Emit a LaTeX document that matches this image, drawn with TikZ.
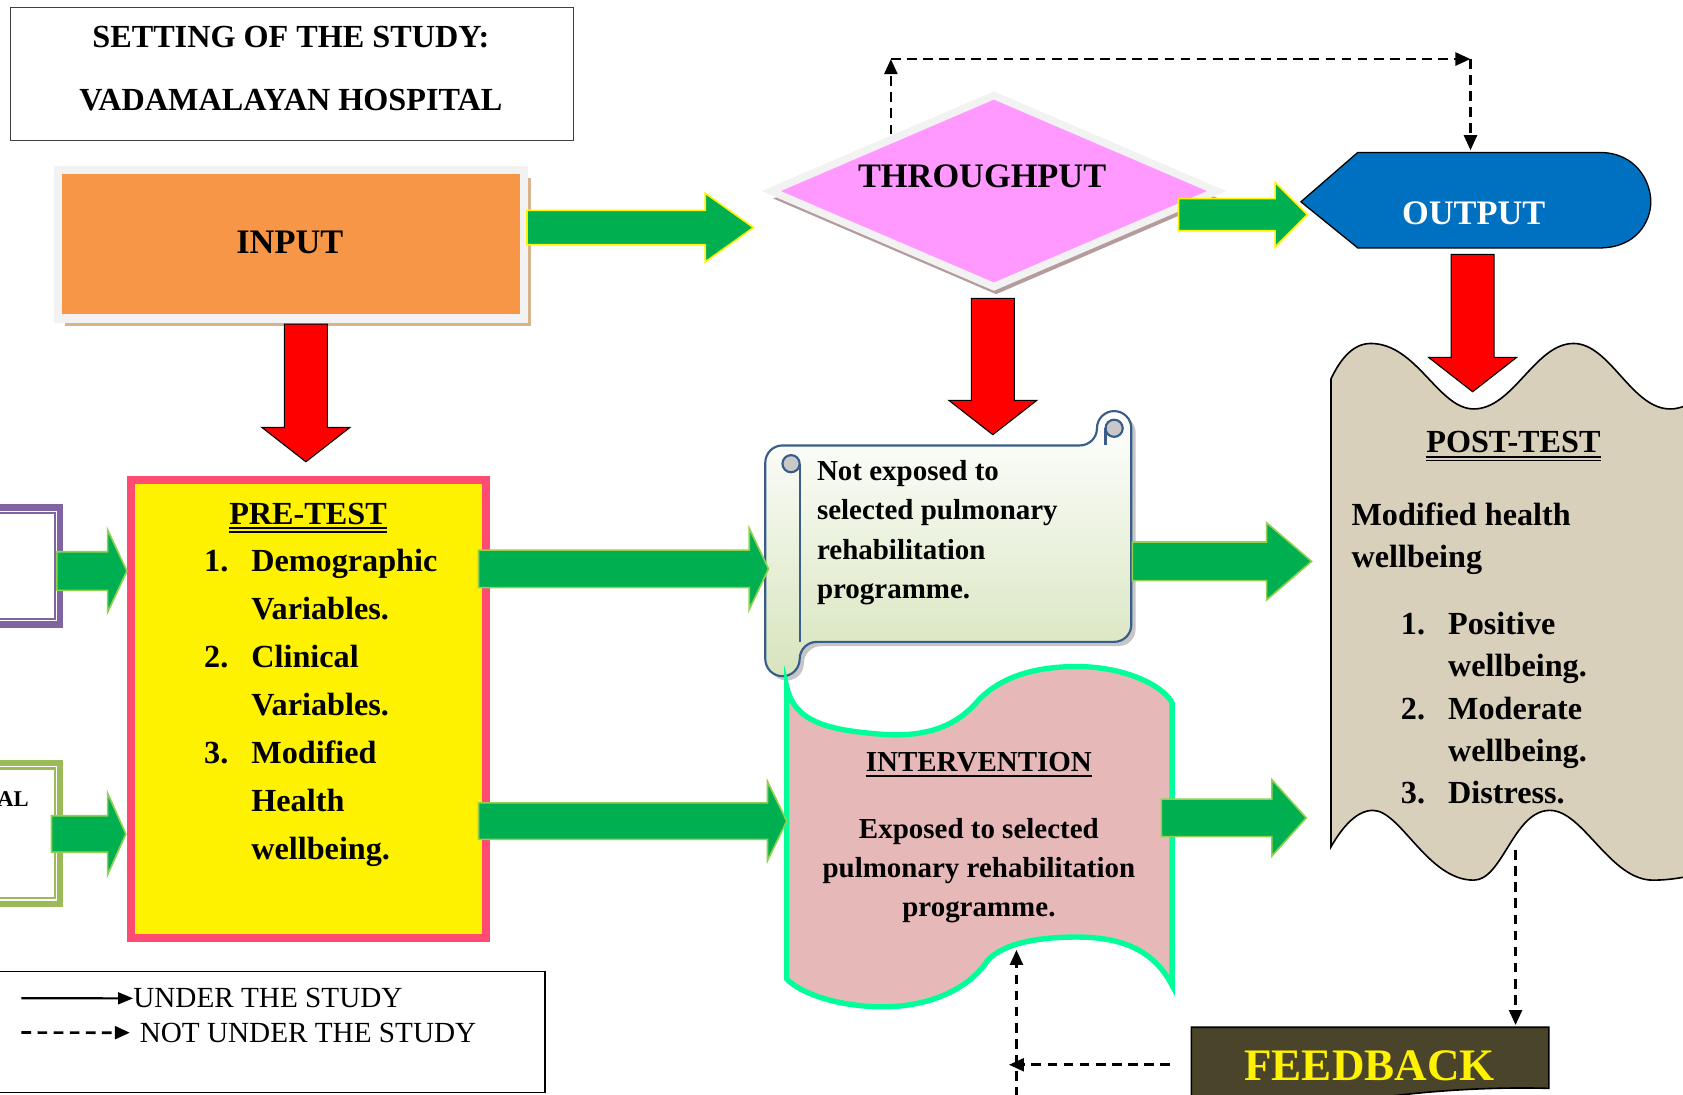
\documentclass[tikz,border=0pt]{standalone}
\usepackage{fontspec}
\setmainfont{Liberation Serif}
\usetikzlibrary{arrows.meta,calc,shapes.geometric,shadows}

\definecolor{arrowgreen}{HTML}{00B050}
\definecolor{limeedge}{HTML}{92D050}
\definecolor{inputorange}{HTML}{F79646}
\definecolor{framegray}{HTML}{F2F2F2}
\definecolor{shadowtan}{HTML}{D9B38C}
\definecolor{thrpink}{HTML}{FF99FF}
\definecolor{thrshadow}{HTML}{B59C9C}
\definecolor{outblue}{HTML}{0070C0}
\definecolor{prepink}{HTML}{FF4A72}
\definecolor{boxpurple}{HTML}{8064A2}
\definecolor{boxgreen}{HTML}{9BBB59}
\definecolor{scrollblue}{HTML}{385D8A}
\definecolor{scrollgreen}{HTML}{D7E4BD}
\definecolor{rollgray}{HTML}{C8C8C8}
\definecolor{intpink}{HTML}{E6B9B8}
\definecolor{intmint}{HTML}{00FF99}
\definecolor{postbeige}{HTML}{D9D0BC}
\definecolor{fbolive}{HTML}{4A452A}

% block arrow: [style]{start}{tip}{half shaft}{half head}{head length}
\newcommand{\fatarrow}[6][]{%
  \coordinate (fa-neck) at ($(#3)!#6!(#2)$);
  \filldraw[#1] ($(#2)!#4!90:(#3)$) -- ($(fa-neck)!#4!-90:(#2)$) -- ($(fa-neck)!#5!-90:(#2)$) -- (#3)
    -- ($(fa-neck)!#5!90:(#2)$) -- ($(fa-neck)!#4!90:(#2)$) -- ($(#2)!#4!-90:(#3)$) -- cycle;}

\begin{document}
\begin{tikzpicture}[x=1pt,y=-1pt,
  titletext/.style={font=\fontsize{30}{59}\selectfont\bfseries,align=center,inner sep=0pt},
  bigtext/.style={font=\fontsize{32}{38}\selectfont\bfseries,inner sep=0pt},
  headtext/.style={font=\fontsize{30}{36}\selectfont\bfseries,inner sep=0pt},
  listtext/.style={font=\fontsize{30}{44.7}\selectfont\bfseries,align=left,inner sep=0pt},
  posttext/.style={font=\fontsize{30}{39.5}\selectfont\bfseries,align=left,inner sep=0pt},
  smalltext/.style={font=\fontsize{27}{36.5}\selectfont\bfseries,inner sep=0pt},
  legendtext/.style={font=\fontsize{27.2}{32}\selectfont,inner sep=0pt},
  underline/.style={line width=1.5pt},
  greenarrow/.style={fill=arrowgreen,draw=limeedge,line width=1.5pt},
  toparrow/.style={fill=arrowgreen,draw=yellow,line width=1.5pt},
  redarrow/.style={fill=red,draw=black,line width=1pt},
  dashlink/.style={line width=2.5pt,dash pattern=on 9pt off 6pt,-{Triangle[length=14pt,width=12pt]}},
  solidlink/.style={line width=2pt,-{Triangle[length=14pt,width=11pt]}}]
\useasboundingbox (0,0) rectangle (1568,1020);
\clip (0,0) rectangle (1568,1020);

% setting of the study
\node[draw=black!75,line width=1.2pt,minimum width=524pt,minimum height=124pt] (setting) at (272,69) {};
\node[titletext,anchor=north] (settingtext) at (271,24) {SETTING OF THE STUDY:\\VADAMALAYAN HOSPITAL};

% input
\node[fill=inputorange,draw=framegray,line width=8pt,minimum width=434pt,minimum height=138pt,
  drop shadow={shadow xshift=7pt,shadow yshift=-7pt,fill=shadowtan,opacity=1}] (input) at (271,227.5) {};
\node[bigtext,anchor=base] (inputtext) at (270,236.6) {INPUT};

% throughput
\node[diamond,fill=thrpink,draw=framegray,line width=7pt,minimum width=418pt,minimum height=181pt,inner sep=0pt,
  drop shadow={shadow xshift=2pt,shadow yshift=-7pt,fill=thrshadow,opacity=1}] (thr) at (926,178) {};
\node[bigtext,anchor=base] (thrtext) at (915,174.6) {THROUGHPUT};

% output
\filldraw[fill=outblue,draw=black,line width=1.2pt] (1212,188) -- (1265,142) -- (1490,142)
  .. controls (1525,142) and (1538,170) .. (1538,188) .. controls (1538,206) and (1525,231) .. (1490,231)
  -- (1265,231) -- cycle;
\node[bigtext,text=white,anchor=base] (output) at (1373,209.6) {OUTPUT};

% pre-test
\node[fill=yellow,draw=prepink,line width=7.5pt,minimum width=331pt,minimum height=427pt] (pretest) at (287.5,660.5) {};
\node[headtext,anchor=base] (prehead) at (287,488.5) {PRE-TEST};
\draw[underline] ($(prehead.south west)+(0,3)$) -- ($(prehead.south east)+(0,3)$);
\draw[underline] ($(prehead.south west)+(0,6.5)$) -- ($(prehead.south east)+(0,6.5)$);
\node[listtext,anchor=north west] (prelist) at (190,511.5) {\makebox[44pt][l]{1.}Demographic\\
  \hspace*{44pt}Variables.\\
  \makebox[44pt][l]{2.}Clinical\\
  \hspace*{44pt}Variables.\\
  \makebox[44pt][l]{3.}Modified\\
  \hspace*{44pt}Health\\
  \hspace*{44pt}wellbeing.};

% boxes cut at the left edge
\node[draw=boxpurple,line width=6pt,minimum width=73pt,minimum height=109pt] (purplebox) at (19.5,527.5) {};
\draw[boxpurple,line width=2pt] ($(purplebox.north east)+(-8,8)$) rectangle ($(purplebox.south west)+(0,-8)$);
\node[draw=boxgreen,line width=6pt,minimum width=73pt,minimum height=131pt] (greenbox) at (19.5,776.5) {};
\draw[boxgreen,line width=2pt] ($(greenbox.north east)+(-8,8)$) rectangle ($(greenbox.south west)+(0,-8)$);
\node[font=\fontsize{21}{25}\selectfont\bfseries,inner sep=0pt,anchor=base east] (altext) at (27,751) {AL};

% scroll: not exposed
\fill[gray!45] [rounded corners=16pt] (749,602) -- (1058,602) -- (1058,387) -- (1026,387) -- (1026,419) -- (717,419) -- (717,634) -- (749,634) -- cycle;
\draw[top color=white,bottom color=scrollgreen,draw=scrollblue,line width=2pt] [rounded corners=16pt]
  (745,598) -- (1054,598) -- (1054,383) -- (1022,383) -- (1022,415) -- (713,415) -- (713,630) -- (745,630) -- cycle;
\draw[scrollblue,line width=2pt] (745,432) -- (745,598);
\filldraw[fill=rollgray,draw=scrollblue,line width=2pt] (737,432) circle (8);
\filldraw[fill=rollgray,draw=scrollblue,line width=2pt] (1038,399) circle (8);
\draw[scrollblue,line width=2pt] (1030,399) -- (1030,415);
\node[smalltext,align=left,anchor=north west] (scrolltext) at (761,429) {Not exposed to\\selected pulmonary\\rehabilitation\\programme.};

% intervention
\filldraw[fill=intpink,draw=intmint,line width=5pt] (733,640) .. controls (740,672) and (770,680) .. (820,684)
  .. controls (870,688) and (895,672) .. (912,652) .. controls (935,628) and (970,621) .. (1003,621)
  .. controls (1050,621) and (1085,640) .. (1092,655) -- (1092,918)
  .. controls (1075,885) and (1045,873) .. (1003,873) .. controls (970,873) and (935,878) .. (920,895)
  .. controls (900,925) and (860,938) .. (823,938) .. controls (780,938) and (745,925) .. (733,912) -- cycle;
\node[smalltext,anchor=base] (inthead) at (912,719) {INTERVENTION};
\draw[underline] ($(inthead.south west)+(0,3.5)$) -- ($(inthead.south east)+(0,3.5)$);
\node[smalltext,align=center,anchor=north] (inttext) at (912,762) {Exposed to selected\\pulmonary rehabilitation\\programme.};

% post-test
\filldraw[fill=postbeige,draw=black,line width=1.5pt] (1240,353) .. controls (1250,332) and (1262,320) .. (1277,320)
  .. controls (1320,320) and (1340,381) .. (1373,381) .. controls (1410,381) and (1430,320) .. (1466,320)
  .. controls (1500,320) and (1520,381) .. (1556,381) .. controls (1585,381) and (1600,345) .. (1620,330)
  -- (1620,800) .. controls (1600,810) and (1570,820) .. (1540,820) .. controls (1500,820) and (1475,755) .. (1444,755)
  .. controls (1410,755) and (1400,820) .. (1373,820) .. controls (1330,820) and (1305,755) .. (1279,755)
  .. controls (1262,755) and (1248,775) .. (1240,789) -- cycle;
\node[headtext,anchor=base] (posthead) at (1410,422) {POST-TEST};
\draw[underline] ($(posthead.south west)+(0,3)$) -- ($(posthead.south east)+(0,3)$);
\draw[underline] ($(posthead.south west)+(0,6.5)$) -- ($(posthead.south east)+(0,6.5)$);
\node[posttext,anchor=north west] (postsub) at (1259,468) {Modified health\\wellbeing};
\node[posttext,anchor=north west] (postlist) at (1305,570) {\makebox[44pt][l]{1.}Positive\\
  \hspace*{44pt}wellbeing.\\
  \makebox[44pt][l]{2.}Moderate\\
  \hspace*{44pt}wellbeing.\\
  \makebox[44pt][l]{3.}Distress.};

% feedback
\filldraw[fill=fbolive,draw=black,line width=1.5pt] (1110,957) -- (1443,957) -- (1443,1014)
  .. controls (1380,1012) and (1300,1018) .. (1240,1030) -- (1110,1030) -- cycle;
\node[font=\fontsize{42}{50}\selectfont\bfseries,text=yellow,inner sep=0pt,anchor=base] (feedback) at (1276,1007) {FEEDBACK};

% legend
\node[draw,line width=1.5pt,minimum width=513pt,minimum height=113pt] (legend) at (251.5,961.5) {};
\node[legendtext,anchor=base west] (under) at (124,939) {UNDER THE STUDY};
\node[legendtext,anchor=base west] (notunder) at (130,971) {NOT UNDER THE STUDY};
\coordinate (legA) at (20,930);
\coordinate (legB) at (20,962);
\draw[solidlink] (legA) -- (under.west);
\draw[dashlink] (legB) -- ([xshift=-9pt]notunder.west);

% green arrows
\coordinate (inOut) at ($(input.east)+(-1,-15.5)$);
\coordinate (thrIn) at (702,212);
\fatarrow[toparrow]{inOut}{thrIn}{16pt}{32pt}{45pt}
\coordinate (thrOut) at (1098,200);
\coordinate (outIn) at (1218,200);
\fatarrow[toparrow]{thrOut}{outIn}{15pt}{30pt}{30pt}
\coordinate (purpleOut) at ($(purplebox.east)+(-6,4.5)$);
\coordinate (preInA) at ($(pretest.west)+(0,-128.5)$);
\fatarrow[greenarrow]{purpleOut}{preInA}{18pt}{38.5pt}{18pt}
\coordinate (greenOut) at ($(greenbox.east)+(-11,0.5)$);
\coordinate (preInB) at ($(pretest.west)+(-1,116.5)$);
\fatarrow[greenarrow]{greenOut}{preInB}{17pt}{38pt}{17pt}
\coordinate (preOutA) at ($(pretest.east)+(-11,-130.5)$);
\coordinate (scrollIn) at (716,530);
\fatarrow[greenarrow]{preOutA}{scrollIn}{17.5pt}{38pt}{18pt}
\coordinate (preOutB) at ($(pretest.east)+(-11,104.5)$);
\coordinate (intIn) at (733,765);
\fatarrow[greenarrow]{preOutB}{intIn}{17pt}{37pt}{18pt}
\coordinate (scrollOut) at (1055,523);
\coordinate (postInA) at (1222,523);
\fatarrow[greenarrow]{scrollOut}{postInA}{18pt}{36pt}{42pt}
\coordinate (intOut) at (1082,762);
\coordinate (postInB) at (1217,762);
\fatarrow[greenarrow]{intOut}{postInB}{17.5pt}{35.5pt}{32pt}

% red arrows
\coordinate (inDown) at ($(input.south)+(14,1.5)$);
\coordinate (preTop) at ($(pretest.north)+(-2.5,-13)$);
\fatarrow[redarrow]{inDown}{preTop}{20pt}{41pt}{32pt}
\coordinate (thrDown) at (925,278);
\coordinate (scrollTop) at (925,405);
\fatarrow[redarrow]{thrDown}{scrollTop}{20pt}{41pt}{32pt}
\coordinate (outDown) at (1372,237);
\coordinate (postTop) at (1372,365);
\fatarrow[redarrow]{outDown}{postTop}{20pt}{41pt}{32pt}

% dashed links
\coordinate (thrEdge) at (830,125);
\coordinate (loopA) at (830,55);
\coordinate (loopB) at (1370,55);
\coordinate (outTop) at (1370,140);
\draw[dashlink] (thrEdge) -- (loopA);
\draw[dashlink] (loopA) -- (loopB);
\draw[dashlink] (loopB) -- (outTop);
\coordinate (postBot) at (1412,792);
\coordinate (fbTop) at (1412,955);
\draw[dashlink] (postBot) -- (fbTop);
\coordinate (fbLeft) at (1090,992);
\coordinate (fbEnd) at (940,992);
\draw[dashlink] (fbLeft) -- (fbEnd);
\coordinate (intBotStart) at (947,1022);
\coordinate (intBot) at (947,885);
\draw[dashlink] (intBotStart) -- (intBot);
\end{tikzpicture}
\end{document}
